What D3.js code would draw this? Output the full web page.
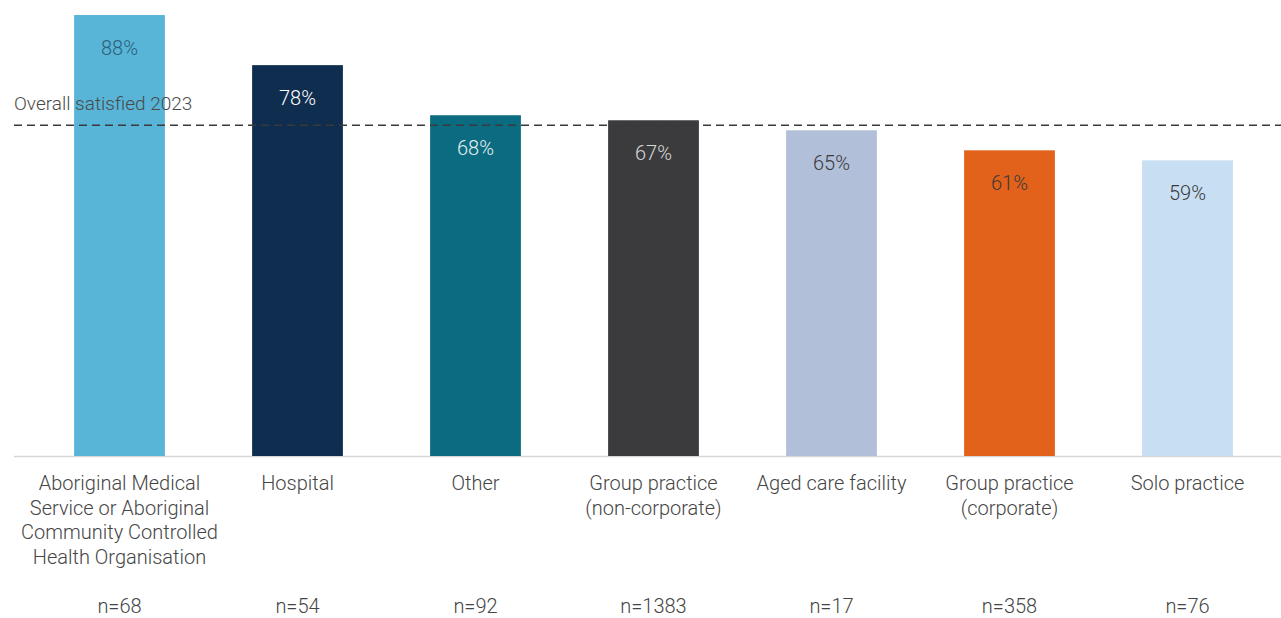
<!DOCTYPE html>
<html><head><meta charset="utf-8">
<script src="https://cdn.jsdelivr.net/npm/d3@7"></script>
<style>body{margin:0;background:#fff;} svg{display:block;font-family:Roboto,"Noto Sans",sans-serif;font-weight:300;}</style>
</head><body><svg id="c" width="1281" height="618"></svg>
<script>
const categories = [
  ["Aboriginal Medical","Service or Aboriginal","Community Controlled","Health Organisation"],
  ["Hospital"],
  ["Other"],
  ["Group practice","(non-corporate)"],
  ["Aged care facility"],
  ["Group practice","(corporate)"],
  ["Solo practice"]
];
const values = [88, 78, 68, 67, 65, 61, 59];
const sampleSizes = ["n=68","n=54","n=92","n=1383","n=17","n=358","n=76"];
const overall = 66;
const overallLabel = "Overall satisfied 2023";
const colors = ["#58b5d8","#0f2d4f","#0b6b80","#3b3b3d","#b1c0d8","#e2621b","#c8def3"];
const labelColors = ["#2d5f78","#ffffff","#e6f0f2","#d8d8d8","#3a3a3a","#3a3a3a","#3a3a3a"];

const svg = d3.select("#c");
const idx = d3.range(values.length);
const x = d3.scaleBand().domain(idx).range([30.5, 1276.5]).paddingInner(0.49).paddingOuter(0.245);
const y = d3.scaleLinear().domain([0, 100]).range([456, 456 - 501.1]);

// baseline
svg.append("line").attr("x1", 14).attr("x2", 1281).attr("y1", y(0)+0.5).attr("y2", y(0)+0.5)
  .attr("stroke", "#d4d6da").attr("stroke-width", 1.5);

svg.selectAll("rect.bar").data(idx).join("rect").attr("class","bar")
  .attr("x", i => x(i)).attr("width", x.bandwidth())
  .attr("y", i => y(values[i])).attr("height", i => y(0) - y(values[i]))
  .attr("fill", i => colors[i]);

svg.selectAll("text.val").data(idx).join("text").attr("class","val")
  .attr("x", i => x(i) + x.bandwidth()/2).attr("y", i => y(values[i]) + 40)
  .attr("text-anchor","middle").attr("font-size", 20).attr("fill", i => labelColors[i])
  .text(i => values[i] + "%");

// overall line
svg.append("line").attr("x1", 14).attr("x2", 1281).attr("y1", y(overall)).attr("y2", y(overall))
  .attr("stroke", "#3a3a3a").attr("stroke-width", 1.3).attr("stroke-dasharray", "8,5");
svg.append("text").attr("x", 14).attr("y", y(overall) - 15).attr("font-size", 19)
  .attr("fill", "#4a4a4a").text(overallLabel);

// category labels
idx.forEach(i => {
  const t = svg.append("text").attr("x", x(i) + x.bandwidth()/2).attr("y", 490)
    .attr("text-anchor","middle").attr("font-size", 20).attr("fill","#454545");
  categories[i].forEach((line, k) => {
    t.append("tspan").attr("x", x(i) + x.bandwidth()/2).attr("dy", k === 0 ? 0 : 24.5).text(line);
  });
  svg.append("text").attr("x", x(i) + x.bandwidth()/2).attr("y", 613)
    .attr("text-anchor","middle").attr("font-size", 20).attr("fill","#454545").text(sampleSizes[i]);
});
</script></body></html>
